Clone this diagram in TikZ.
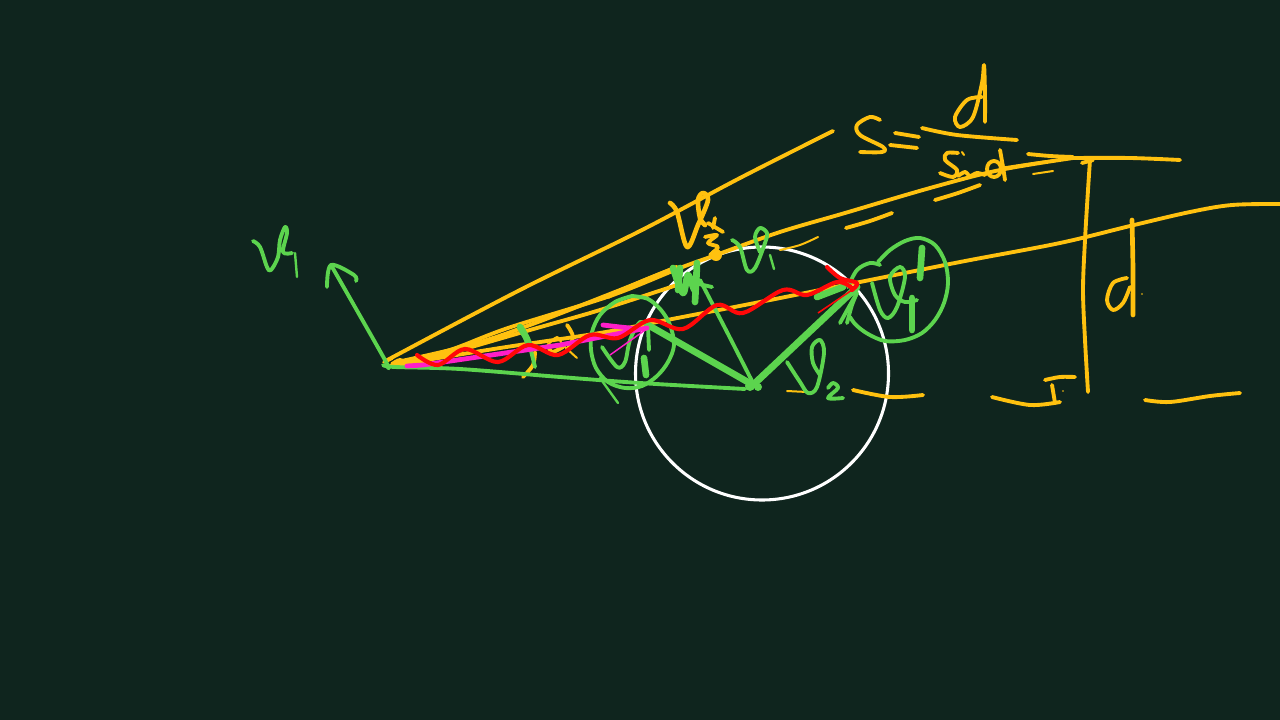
\documentclass[tikz,border=0pt]{standalone}
\definecolor{bgc}{RGB}{15,37,30}
\definecolor{yl}{RGB}{255,193,15}
\definecolor{gr}{RGB}{92,212,78}
\definecolor{rd}{RGB}{255,8,8}
\definecolor{mg}{RGB}{255,30,200}
\tikzset{
 ink/.style={line cap=round,line join=round,line width=2.9pt},
 yy/.style={ink,draw=yl},
 gg/.style={ink,draw=gr},
 ggt/.style={ink,draw=gr,line width=5pt},
 ggn/.style={ink,draw=gr,line width=1.8pt},
 yyn/.style={ink,draw=yl,line width=1.5pt},
 yyt/.style={ink,draw=yl,line width=3.5pt},
 rr/.style={ink,draw=rd,line width=3.1pt},
 mm/.style={ink,draw=mg,line width=3.6pt},
}
\newcommand{\sk}[2]{\draw[#1] plot[smooth,tension=0.55] coordinates {#2};}
\begin{document}
\begin{tikzpicture}[x=0.75pt,y=-0.75pt]
\fill[bgc] (0,0) rectangle (1280,720);
\useasboundingbox (0,0) rectangle (1280,720);
% white circle
\draw[white,line width=2.3pt] (762,373.5) circle (126.5);
% yellow long lines
\sk{yy}{(392,358)(393,357)(520,290)(642,230)(740,178)(833,131)}
\sk{yy}{(392,366)(450,350)(508,328)(610,296)(680,268)(716,255)(780,232)(845,213)(930,188)(1000,170)(1073,158)}
\sk{yy}{(397,362)(470,345)(530,325)(620,290)(677,267)}
\sk{yy}{(608,297)(640,282)(677,267)}
\sk{yy}{(420,362)(530,330)(600,310)(677,285)}
\sk{yy}{(390,366)(500,348)(600,333)(667,320)(760,302)(855,283)(960,262)(1060,243)(1130,226)(1190,212)(1232,205)(1280,204)}
\sk{yy}{(1073,158)(1130,158)(1180,160)}
\sk{yyn}{(1000,168)(1040,162)(1073,158)}
\sk{yy}{(1028,154)(1050,156)(1073,157)}
\sk{yy}{(392,364)(400,360)(405,364)(398,366)}
% yellow dashes
\sk{yy}{(846,228)(870,221)(892,213)}
\sk{yy}{(935,200)(958,193)(980,185)}
\sk{yyn}{(780,250)(800,245)(818,237)}
\sk{yyn}{(1033,174)(1053,171)}
\sk{yy}{(853,390)(890,397)(923,395)}
\sk{yyn}{(787,391)(807,392)}
\sk{yy}{(992,397)(1030,405)(1060,402)}
\sk{yy}{(1145,400)(1170,402)(1210,396)(1240,393)}
% S = d / sin theta
\sk{yy}{(880,120)(870,117)(857,125)(860,135)(883,147)(882,152)(860,152)}
\sk{yy}{(895,133)(919,137)}
\sk{yy}{(890,145)(917,148)}
\sk{yy}{(922,128)(957,135)(1017,140)}
\sk{yy}{(982,97)(967,100)(955,117)(960,127)(973,117)(982,83)(984,65)(985,95)(985,122)}
\sk{yy}{(958,153)(947,153)(945,160)(957,170)(953,177)(940,173)}
\sk{yyn}{(962,152)(964,155)}
\sk{yy}{(958,176)(965,172)(970,176)(977,173)(985,175)}
\draw[yy] (994,169) ellipse (7 and 8);
\sk{yy}{(1000,150)(1003,167)(1005,180)}
% d and vertical
\sk{yy}{(1082,163)(1093,160)}
\sk{yy}{(1090,160)(1088,190)(1085,240)(1083,290)(1085,340)(1088,392)}
\sk{yyt}{(1132,220)(1133,270)(1133,315)}
\sk{yy}{(1127,278)(1113,283)(1107,300)(1113,310)(1123,303)(1130,287)}
\fill[yl] (1142,294) circle (0.9);
\sk{yy}{(1045,380)(1060,377)(1075,377)}
\sk{yy}{(1052,385)(1055,403)}
\fill[yl] (1063,391) circle (0.9);
% V3
\sk{yyt}{(670,203)(677,212)(687,247)(698,225)(708,200)(703,193)(698,200)(700,218)(705,225)}
\sk{yy}{(708,223)(723,232)}
\sk{yy}{(715,218)(713,228)}
\sk{yy}{(705,237)(717,235)(708,243)(718,247)(710,255)}
\fill[yl] (716,255) circle (6);
% angle mark and alpha
\sk{yy}{(535,352)(533,365)(523,377)}
\sk{yyn}{(548,345)(557,337)(563,345)(577,358)}
\sk{yy}{(548,345)(552,352)(563,347)}
\sk{yy}{(567,325)(573,337)(567,350)}
% green bottom line
\sk{gg}{(383,365)(395,367)(460,369)(560,377)(640,383)(745,389)}
% V1 arrow
\sk{gg}{(331,265)(385,360)(386,365)}
\sk{gg}{(327,287)(331,265)(354,275)(356,281)}
\sk{gg}{(253,241)(260,247)(267,267)(271,270)(278,257)(280,240)(285,227)(287,233)(283,252)(292,253)}
\sk{ggn}{(295,253)(297,277)}
% triangle
\draw[ggt] (753,385) -- (648,325);
\draw[ggt,line width=5.2pt] (753,385) -- (857,287);
\sk{gg}{(753,383)(727,332)(700,280)}
% blobs
\sk{ggt}{(673,268)(683,293)(688,275)(695,290)(697,263)(695,302)}
\sk{ggt}{(680,268)(678,290)}
\sk{gg}{(690,282)(712,287)}
\fill[gr] (750,386) circle (5) (758,387) circle (4);
% green tip at right
\sk{ggt}{(817,297)(830,292)(843,287)}
\sk{gg}{(840,323)(850,305)(857,293)}
\sk{gg}{(847,323)(852,305)(857,293)}
% angle mark green
\sk{ggt}{(520,327)(526,337)(530,347)}
\sk{gg}{(530,347)(535,367)}
% left small circle
\sk{gg}{(632,296)(648,299)(661,310)(670,325)(674,345)(668,362)(657,376)(642,386)(625,388)(608,382)(596,368)(591,350)(592,332)(600,315)(615,302)(632,296)}
\sk{ggn}{(600,378)(618,403)}
\sk{gg}{(602,347)(617,367)(625,362)(630,340)(640,322)(648,327)}
\sk{gg}{(648,327)(649,350)}
\sk{ggt}{(644,358)(646,375)}
\sk{gg}{(648,325)(665,335)}
% right circle
\sk{gg}{(878,262)(890,250)(905,241)(920,238)(935,245)(945,262)(948,283)(944,303)(935,320)(922,333)(905,340)(885,341)(868,334)(856,325)(850,317)}
\sk{gg}{(880,265)(870,263)(857,270)(848,287)}
\sk{gg}{(872,283)(880,310)(888,318)(897,307)(905,277)(900,267)(890,277)(895,295)(905,302)(917,300)}
\sk{ggt}{(912,298)(912,330)}
\sk{ggt}{(922,248)(920,278)}
% upper v1
\sk{gg}{(732,240)(740,247)(747,270)(755,268)(765,243)(767,233)(760,228)(755,237)(760,252)}
\sk{ggn}{(770,255)(774,269)}
% V2
\sk{gg}{(787,362)(800,382)(808,393)(817,387)(824,353)(820,340)(812,347)(813,363)(820,375)}
\sk{gg}{(828,388)(833,383)(838,388)(828,398)(843,398)}
% magenta
\draw[mm] (407,366) -- (423,365) -- (560,345) -- (647,328);
\sk{mm}{(603,325)(620,327)(640,329)}
\draw[mg,line width=1.1pt] (610,355) -- (648,328);
% red
\sk{rr}{(417,355)(438,365)(465,349)(498,362)(528,345)(558,355)(590,335)(618,338)(650,320)(683,329)(717,305)(743,313)(783,290)(807,295)(837,282)(852,288)}
\sk{rr}{(827,267)(840,278)(857,283)(852,290)}
\draw[rd,line width=1.2pt] (852,290) -- (818,313);
\end{tikzpicture}
\end{document}
